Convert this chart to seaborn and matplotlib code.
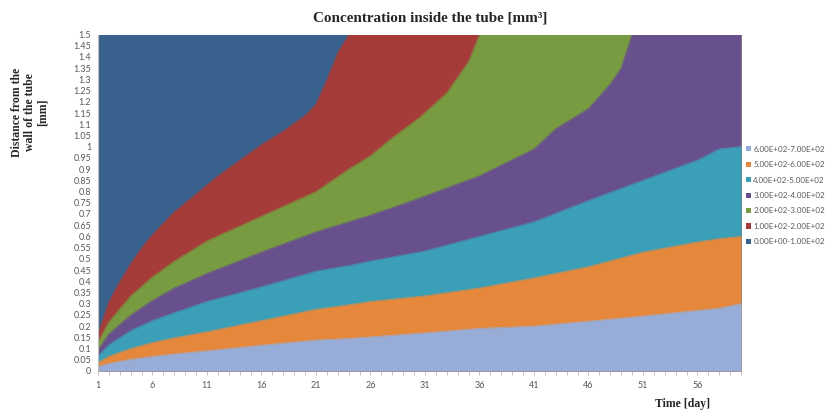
import numpy as np
import matplotlib
matplotlib.use("Agg")
import matplotlib.pyplot as plt
from matplotlib.patches import Patch
import seaborn as sns

# Concentration bands (value ranges shown in the legend, lowest first)
band_labels = [
    "0.00E+00-1.00E+02",
    "1.00E+02-2.00E+02",
    "2.00E+02-3.00E+02",
    "3.00E+02-4.00E+02",
    "4.00E+02-5.00E+02",
    "5.00E+02-6.00E+02",
    "6.00E+02-7.00E+02",
]
band_colors = ["#3A628E", "#A53C3A", "#789A40", "#67508C", "#3C9FB8", "#E6883C", "#97ADD7"]

# Iso-concentration boundaries: distance from the wall [mm] versus time [day]
days_100 = [1, 2, 3, 4, 5, 6, 8, 10, 12, 14, 16, 18, 20, 21, 22, 23, 24, 60]
dist_100 = [0.17, 0.31, 0.40, 0.48, 0.55, 0.61, 0.71, 0.79, 0.87, 0.94, 1.01, 1.07, 1.14, 1.19, 1.30, 1.42, 1.50, 1.50]

days_200 = [1, 2, 4, 6, 8, 11, 16, 21, 24, 26, 28, 30.5, 33, 35, 36, 60]
dist_200 = [0.13, 0.22, 0.335, 0.42, 0.49, 0.58, 0.69, 0.80, 0.90, 0.96, 1.04, 1.13, 1.24, 1.38, 1.50, 1.50]

days_300 = [1, 2, 4, 6, 8, 11, 16, 21, 24, 26, 29, 31, 36, 41, 43, 46, 48, 49, 50, 60]
dist_300 = [0.095, 0.165, 0.25, 0.315, 0.37, 0.435, 0.53, 0.62, 0.665, 0.695, 0.745, 0.78, 0.87, 0.99, 1.08, 1.17, 1.28, 1.35, 1.50, 1.50]

days_400 = [1, 2, 4, 6, 8, 11, 16, 21, 24, 26, 31, 36, 41, 46, 51, 56, 58, 60]
dist_400 = [0.068, 0.117, 0.18, 0.225, 0.26, 0.31, 0.375, 0.445, 0.47, 0.49, 0.535, 0.60, 0.665, 0.76, 0.85, 0.94, 0.99, 1.00]

days_500 = [1, 2, 4, 6, 8, 11, 16, 21, 24, 26, 31, 36, 41, 46, 51, 56, 58, 60]
dist_500 = [0.038, 0.066, 0.10, 0.127, 0.148, 0.175, 0.225, 0.275, 0.295, 0.31, 0.335, 0.37, 0.415, 0.465, 0.53, 0.575, 0.59, 0.60]

days_600 = [1, 2, 4, 6, 8, 11, 16, 21, 24, 26, 31, 36, 41, 46, 51, 56, 58, 60]
dist_600 = [0.02, 0.034, 0.052, 0.065, 0.076, 0.09, 0.115, 0.138, 0.145, 0.152, 0.17, 0.19, 0.20, 0.222, 0.245, 0.27, 0.28, 0.30]

x_ticks = [1, 6, 11, 16, 21, 26, 31, 36, 41, 46, 51, 56]
y_ticks = [round(0.05 * i, 2) for i in range(31)]

sns.set_theme(style="white")
plt.rcParams["font.family"] = ["Lato", "DejaVu Sans"]
serif = ["Liberation Serif", "DejaVu Serif"]

fig = plt.figure(figsize=(8.33, 4.13), dpi=100)
ax = fig.add_axes([98 / 833, 1 - 371 / 413, (741 - 98) / 833, (371 - 34.5) / 413])

# lowest band fills the whole plot area, higher bands stacked on top from the wall
ax.set_facecolor(band_colors[0])
boundaries = [(days_100, dist_100), (days_200, dist_200), (days_300, dist_300),
              (days_400, dist_400), (days_500, dist_500), (days_600, dist_600)]
for (d, v), color in zip(boundaries, band_colors[1:]):
    ax.fill_between(d, 0, v, color=color, linewidth=0)
    sns.lineplot(x=d, y=v, ax=ax, color=color, linewidth=0.5, sort=False)

ax.set_xlim(1, 60)
ax.set_ylim(0, 1.5)
ax.set_xticks(x_ticks)
ax.set_xticks(range(1, 61), minor=True)
ax.set_yticks(y_ticks)
ax.set_yticklabels([f"{t:g}" for t in y_ticks])
ax.tick_params(axis="both", labelsize=6.5, colors="#595959")
ax.tick_params(axis="x", which="both", direction="out", length=3, width=0.5,
               bottom=True, color="#A6A6A6", pad=4)
ax.tick_params(axis="y", length=0, pad=5)
for s in ["top", "right", "bottom"]:
    ax.spines[s].set_visible(False)
ax.spines["left"].set_color("#BFBFBF")
ax.spines["left"].set_linewidth(0.8)

fig.text(0.516, 0.957, "Concentration inside the tube [mm³]", ha="center", va="center",
         fontsize=10.9, fontweight="bold", family=serif)
fig.text(0.036, 0.728, "Distance from the\nwall of the tube\n[mm]", ha="center", va="center",
         rotation=90, fontsize=8.5, fontweight="bold", linespacing=1.1, family=serif)
fig.text(0.852, 0.022, "Time [day]", ha="right", va="center", fontsize=8.5,
         fontweight="bold", family=serif)

handles = [Patch(facecolor=c, edgecolor="none", label=l)
           for c, l in zip(band_colors[::-1], band_labels[::-1])]
fig.legend(handles=handles, loc="upper left", bbox_to_anchor=(0.887, 0.665),
           frameon=False, fontsize=5.8, handlelength=0.6, handleheight=0.6,
           handletextpad=0.3, labelspacing=1.05, labelcolor="#595959")

fig.savefig("out.png", dpi=100)
